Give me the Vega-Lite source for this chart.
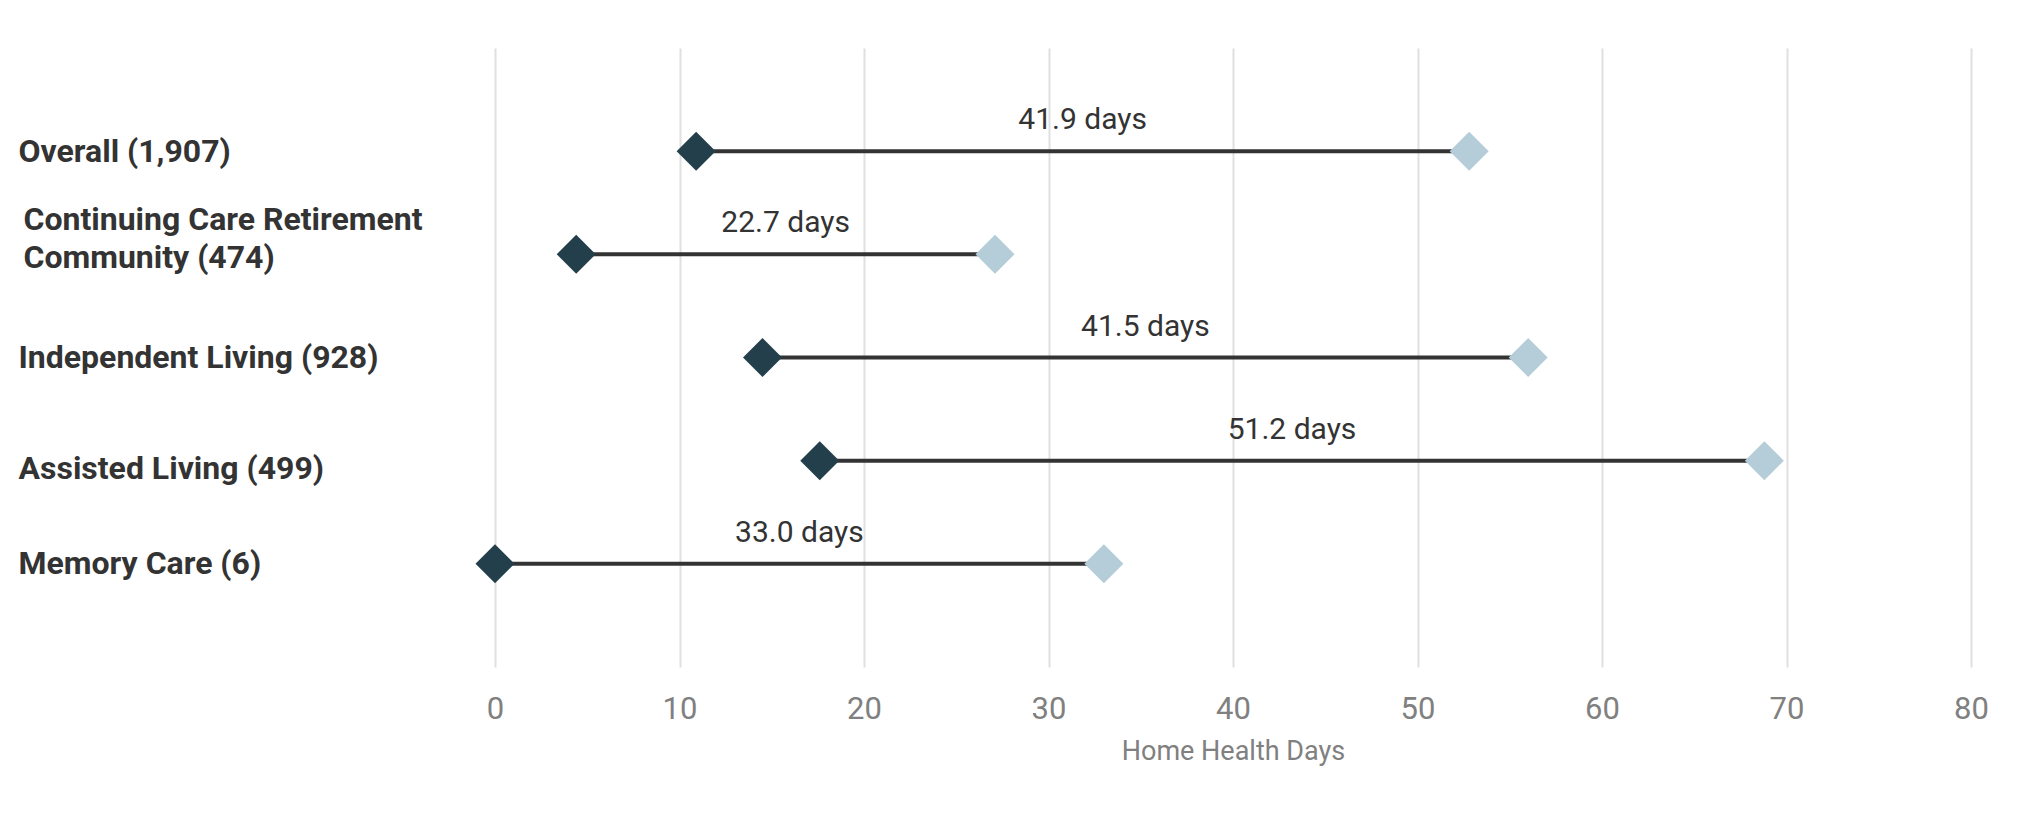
{
  "$schema": "https://vega.github.io/schema/vega-lite/v6.json",
  "autosize": {"type": "none"},
  "padding": {"left": 495, "top": 48, "right": 73, "bottom": 146},
  "width": 1476,
  "height": 619,
  "background": "white",
  "config": {
    "font": "Roboto",
    "view": {"stroke": null}
  },
  "data": {
    "values": [
      {"group": "Overall (1,907)", "start": 10.9, "end": 52.8, "diff": 41.9},
      {"group": "Continuing Care Retirement Community (474)", "start": 4.4, "end": 27.1, "diff": 22.7},
      {"group": "Independent Living (928)", "start": 14.5, "end": 56.0, "diff": 41.5},
      {"group": "Assisted Living (499)", "start": 17.6, "end": 68.8, "diff": 51.2},
      {"group": "Memory Care (6)", "start": 0, "end": 33.0, "diff": 33.0}
    ]
  },
  "transform": [
    {"calculate": "(datum.start + datum.end) / 2", "as": "mid"},
    {"calculate": "format(datum.diff, '.1f') + ' days'", "as": "label"}
  ],
  "encoding": {
    "y": {
      "field": "group",
      "type": "nominal",
      "sort": null,
      "scale": {"type": "point", "padding": 1},
      "axis": {
        "title": null,
        "domain": false,
        "ticks": false,
        "grid": false,
        "labelAlign": "left",
        "labelPadding": {"condition": {"test": "datum.value == 'Continuing Care Retirement Community (474)'", "value": 472}, "value": 477},
        "labelOffset": {"condition": [{"test": "datum.value == 'Continuing Care Retirement Community (474)'", "value": -35}, {"test": "datum.value == 'Assisted Living (499)'", "value": 8}], "value": 0},
        "labelFontSize": 32,
        "labelFontWeight": "bold",
        "labelColor": "#333333",
        "labelLineHeight": 38,
        "labelLimit": 0,
        "labelExpr": "datum.value == 'Continuing Care Retirement Community (474)' ? ['Continuing Care Retirement', 'Community (474)'] : datum.value"
      }
    }
  },
  "layer": [
    {
      "mark": {"type": "rule", "color": "#333333", "strokeWidth": 4},
      "encoding": {
        "x": {
          "field": "start",
          "type": "quantitative",
          "scale": {"domain": [0, 80], "nice": false},
          "axis": {
            "values": [0, 10, 20, 30, 40, 50, 60, 70, 80],
            "domain": false,
            "ticks": false,
            "grid": true,
            "gridColor": "#e0e0e0",
            "gridWidth": 2,
            "labelFlush": false,
            "labelFontSize": 31,
            "labelColor": "#808080",
            "labelPadding": 27,
            "title": "Home Health Days",
            "titleFontSize": 27,
            "titleFontWeight": "normal",
            "titleColor": "#808080",
            "titlePadding": 14
          }
        },
        "x2": {"field": "end"}
      }
    },
    {
      "mark": {"type": "point", "shape": "diamond", "filled": true, "size": 1521, "opacity": 1, "color": "#243f4c"},
      "encoding": {"x": {"field": "start", "type": "quantitative"}}
    },
    {
      "mark": {"type": "point", "shape": "diamond", "filled": true, "size": 1521, "opacity": 1, "color": "#b5cdd8"},
      "encoding": {"x": {"field": "end", "type": "quantitative"}}
    },
    {
      "mark": {"type": "text", "fontSize": 30, "color": "#333333", "dy": -22, "baseline": "alphabetic", "align": "center"},
      "encoding": {
        "x": {"field": "mid", "type": "quantitative"},
        "text": {"field": "label"}
      }
    }
  ]
}
